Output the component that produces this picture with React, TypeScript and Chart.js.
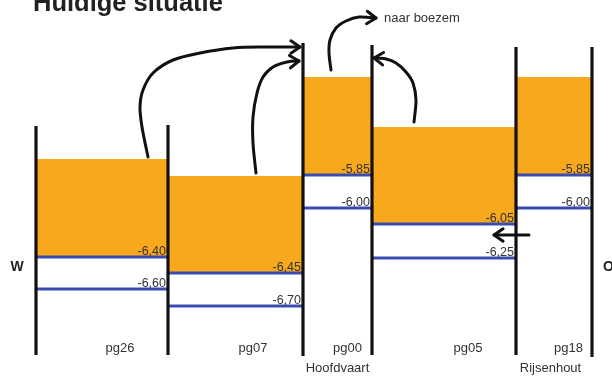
import React, { useEffect, useRef } from 'react';
import { Chart, registerables } from 'chart.js';

Chart.register(...registerables);

// ---- Schematic data (x: along profile, y: schematic height, arbitrary units) ----
const columns = ['pg26', 'pg07', 'pg00', 'pg05', 'pg18'];
const subLabels = ['', '', 'Hoofdvaart', '', 'Rijsenhout'];
const wallX = [3.6, 16.8, 30.3, 37.2, 51.6, 59.2];
const wallTop = [25.3, 25.4, 33.6, 33.4, 33.2, 33.2];
const wallBottom = [2.4, 2.4, 2.3, 2.4, 2.4, 2.2];
const waterTop = [22.0, 20.3, 30.2, 25.2, 30.2];
const upperLevel = [12.2, 10.6, 20.4, 15.5, 20.4];
const lowerLevel = [9.0, 7.3, 17.1, 12.1, 17.1];
const upperLabels = ['-6,40', '-6,45', '-5,85', '-6,05', '-5,85'];
const lowerLabels = ['-6,60', '-6,70', '-6,00', '-6,25', '-6,00'];
const nameX = [12.0, 25.3, 34.75, 46.8, 56.85];
const nameY = 2.7;
const subX = [0, 0, 33.75, 0, 55.05];
const subY = 0.7;

// arrows (paths in the same units)
const arrow1X = [14.8, 14.2, 14.0, 14.3, 15.3, 17.3, 20.0, 23.3, 26.7, 30.0];
const arrow1Y = [22.2, 25.2, 27.2, 28.9, 30.6, 31.9, 32.6, 33.1, 33.2, 33.2];
const arrow2X = [25.6, 25.3, 25.3, 25.7, 26.3, 27.3, 28.7, 29.9];
const arrow2Y = [20.6, 23.6, 26.2, 28.6, 30.2, 31.2, 31.7, 31.8];
const arrow3X = [33.1, 32.9, 33.0, 33.6, 34.6, 35.9, 37.6];
const arrow3Y = [30.9, 32.6, 33.9, 35.1, 35.8, 36.2, 36.1];
const arrow4X = [41.4, 41.6, 41.3, 40.6, 39.6, 38.6, 37.4];
const arrow4Y = [25.7, 27.9, 29.6, 30.7, 31.6, 32.0, 32.1];
const arrow5X = [52.9, 49.4];
const arrow5Y = [14.4, 14.4];

const title = 'Huidige situatie';
const westLabel = 'W';
const eastLabel = 'O';
const outletLabel = 'naar boezem';
const outletX = 38.4;
const outletY = 35.7;

const ORANGE = '#f7a81d';
const BLUE = '#3a4cb2';
const BLACK = '#111111';
const TEXT = '#333333';
const FONT = "'Liberation Sans', Arial, sans-serif";

export default function App() {
  const ref = useRef<HTMLCanvasElement>(null);

  useEffect(() => {
    if (!ref.current) return;
    const datasets: any[] = [];

    columns.forEach((_, i) => {
      datasets.push({
        type: 'line',
        data: [
          { x: wallX[i], y: waterTop[i] },
          { x: wallX[i + 1], y: waterTop[i] },
        ],
        borderWidth: 0,
        borderColor: 'rgba(0,0,0,0)',
        backgroundColor: ORANGE,
        fill: { value: upperLevel[i] },
        pointRadius: 0,
        order: 3,
      });
      [upperLevel[i], lowerLevel[i]].forEach((lv) => {
        datasets.push({
          type: 'line',
          data: [
            { x: wallX[i], y: lv },
            { x: wallX[i + 1], y: lv },
          ],
          borderWidth: 3,
          borderColor: BLUE,
          fill: false,
          pointRadius: 0,
          order: 2,
        });
      });
    });

    wallX.forEach((x, i) => {
      datasets.push({
        type: 'line',
        data: [
          { x, y: wallBottom[i] },
          { x, y: wallTop[i] },
        ],
        borderWidth: 3.2,
        borderColor: BLACK,
        borderCapStyle: 'butt',
        fill: false,
        pointRadius: 0,
        order: 1,
      });
    });

    const drawCurve = (ctx: CanvasRenderingContext2D, pts: number[][]) => {
      ctx.beginPath();
      ctx.moveTo(pts[0][0], pts[0][1]);
      for (let i = 0; i < pts.length - 1; i++) {
        const p0 = pts[i - 1] || pts[i];
        const p1 = pts[i];
        const p2 = pts[i + 1];
        const p3 = pts[i + 2] || p2;
        const c1x = p1[0] + (p2[0] - p0[0]) / 6;
        const c1y = p1[1] + (p2[1] - p0[1]) / 6;
        const c2x = p2[0] - (p3[0] - p1[0]) / 6;
        const c2y = p2[1] - (p3[1] - p1[1]) / 6;
        ctx.bezierCurveTo(c1x, c1y, c2x, c2y, p2[0], p2[1]);
      }
      ctx.stroke();
      const a = pts[pts.length - 2];
      const b = pts[pts.length - 1];
      const ang = Math.atan2(b[1] - a[1], b[0] - a[0]);
      const L = 11;
      const spread = 0.6;
      ctx.beginPath();
      ctx.moveTo(b[0] - L * Math.cos(ang - spread), b[1] - L * Math.sin(ang - spread));
      ctx.lineTo(b[0], b[1]);
      ctx.lineTo(b[0] - L * Math.cos(ang + spread), b[1] - L * Math.sin(ang + spread));
      ctx.stroke();
    };

    const annot = {
      id: 'annot',
      afterDatasetsDraw(chart: any) {
        const ctx: CanvasRenderingContext2D = chart.ctx;
        const xs = chart.scales.x;
        const ys = chart.scales.y;
        const px = (v: number) => xs.getPixelForValue(v);
        const py = (v: number) => ys.getPixelForValue(v);
        ctx.save();

        // arrows
        ctx.strokeStyle = BLACK;
        ctx.lineWidth = 3;
        ctx.lineCap = 'round';
        ctx.lineJoin = 'round';
        const arrows = [
          [arrow1X, arrow1Y],
          [arrow2X, arrow2Y],
          [arrow3X, arrow3Y],
          [arrow4X, arrow4Y],
          [arrow5X, arrow5Y],
        ];
        arrows.forEach(([ax, ay]) => {
          drawCurve(ctx, ax.map((x, k) => [px(x), py(ay[k])]));
        });

        // level labels
        ctx.fillStyle = TEXT;
        ctx.font = `12.5px ${FONT}`;
        ctx.textAlign = 'right';
        ctx.textBaseline = 'alphabetic';
        columns.forEach((_, i) => {
          const rx = px(wallX[i + 1]) - 2;
          ctx.fillText(upperLabels[i], rx, py(upperLevel[i]) - 2.5);
          ctx.fillText(lowerLabels[i], rx, py(lowerLevel[i]) - 2.5);
        });

        // column names
        ctx.font = `13px ${FONT}`;
        ctx.textAlign = 'center';
        columns.forEach((c, i) => {
          ctx.fillText(c, px(nameX[i]), py(nameY));
          if (subLabels[i]) ctx.fillText(subLabels[i], px(subX[i]), py(subY));
        });

        // outlet label
        ctx.textAlign = 'left';
        ctx.fillText(outletLabel, px(outletX), py(outletY));

        // W / O
        ctx.fillStyle = '#222';
        ctx.font = `bold 14px ${FONT}`;
        ctx.textAlign = 'center';
        ctx.fillText(westLabel, 17, 271);
        ctx.textAlign = 'left';
        ctx.fillText(eastLabel, 603, 271);

        // title
        ctx.fillStyle = '#222';
        ctx.font = `bold 25.5px ${FONT}`;
        ctx.textAlign = 'left';
        ctx.fillText(title, 33, 11);

        ctx.restore();
      },
    };

    const chart = new Chart(ref.current, {
      type: 'line',
      data: { datasets },
      options: {
        responsive: false,
        animation: false,
        events: [],
        layout: { padding: 0, autoPadding: false },
        plugins: { legend: { display: false }, tooltip: { enabled: false }, title: { display: false } },
        scales: {
          x: { type: 'linear', display: false, min: 0, max: 61.2 },
          y: { type: 'linear', display: false, min: 0, max: 37.9 },
        },
      },
      plugins: [annot],
    } as any);
    return () => chart.destroy();
  }, []);

  return (
    <div style={{ position: 'absolute', left: 0, top: 0, width: 612, height: 379, background: '#fff' }}>
      <canvas ref={ref} width={612} height={379} style={{ display: 'block' }} />
    </div>
  );
}
